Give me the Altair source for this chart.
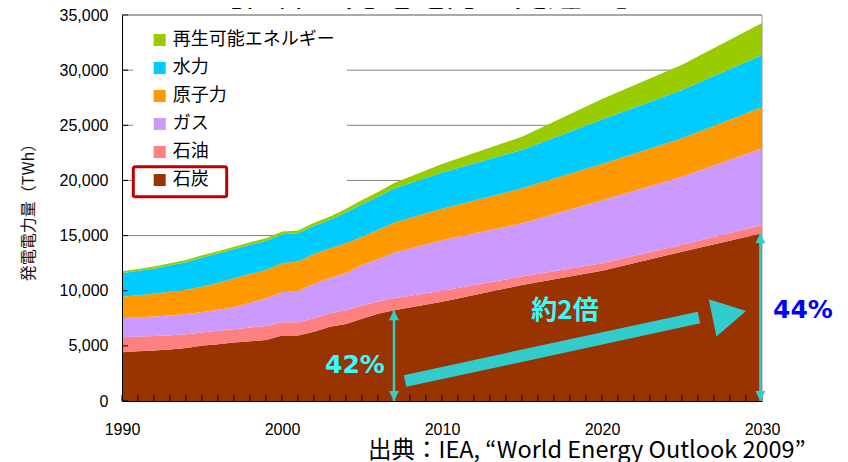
import altair as alt
import pandas as pd

# ---------------- data ----------------
years = [1990, 1991, 1992, 1993, 1994, 1995, 1996, 1997, 1998, 1999,
         2000, 2001, 2002, 2003, 2004, 2005, 2006, 2007,
         2010, 2015, 2020, 2025, 2030]
coal = [4420, 4500, 4570, 4660, 4800, 5000, 5150, 5300, 5420, 5530,
        5930, 5930, 6290, 6740, 6980, 7450, 7900, 8220,
        9000, 10520, 11800, 13540, 15200]
oil = [1350, 1340, 1320, 1300, 1260, 1200, 1220, 1200, 1250, 1270,
       1210, 1210, 1210, 1210, 1260, 1230, 1130, 1090,
       990, 760, 700, 620, 760]
gas = [1730, 1760, 1780, 1800, 1830, 1840, 1900, 2000, 2250, 2510,
       2720, 2840, 3110, 3230, 3340, 3650, 3820, 4140,
       4580, 4830, 5700, 6180, 6950]
nuclear = [1960, 2000, 2050, 2150, 2200, 2330, 2450, 2620, 2600, 2570,
           2620, 2660, 2720, 2660, 2720, 2570, 2660, 2720,
           2860, 3175, 3280, 3480, 3720]
hydro = [2120, 2200, 2280, 2400, 2500, 2650, 2650, 2660, 2650, 2650,
         2640, 2560, 2550, 2600, 2800, 2950, 3000, 3100,
         3300, 3480, 4050, 4380, 4740]
renewables = [180, 180, 185, 190, 195, 200, 205, 210, 220, 230,
              250, 260, 280, 300, 340, 380, 430, 500,
              760, 1200, 1850, 2300, 2900]

source_names = ["石炭", "石油", "ガス", "原子力", "水力", "再生可能エネルギー"]
source_colors = ["#993300", "#FF8080", "#CC99FF", "#FF9900", "#00CCFF", "#99CC00"]

x_label_years = [1990, 2000, 2010, 2020, 2030]
minor_tick_years = list(range(1990, 2031))
y_tick_values = [0, 5000, 10000, 15000, 20000, 25000, 30000, 35000]
grid_values = [5000, 10000, 15000, 20000, 25000, 30000]

title_text = "［世界の発電電力量見通し］"
y_title_text = "発電電力量（TWh）"
source_text = "出典：IEA, “World Energy Outlook 2009”"

# annotations (data coordinates)
share_years = [2007.0, 2029.9]
share_tops = [8220, 15200]
share_text = ["42%", "44%"]
share_text_year = [2004.56, 2032.56]
share_text_value = [2540, 7530]
share_text_color = ["#33FFFF", "#0000FF"]
growth_start = [2007.69, 1814]
growth_end = [2026.06, 7572]
growth_head = [2027.96, 7853]
growth_text = "約2倍"
growth_text_pos = [2017.69, 7390]

# ---------------- build tables ----------------
series = [coal, oil, gas, nuclear, hydro, renewables]
rows = []
for i, yr in enumerate(years):
    for k, (name, vals) in enumerate(zip(source_names, series)):
        rows.append({"year": yr, "source": name, "value": vals[i], "order": k})
df = pd.DataFrame(rows)

W, H = 640, 386
ARROW = "#33CCCC"
NUM_FONT = "Liberation Sans"
JP_FONT = "Noto Sans CJK JP"

xs = alt.Scale(domain=[1990, 2030], nice=False, zero=False)
ys = alt.Scale(domain=[0, 35000], nice=False)

x_axis = alt.Axis(values=x_label_years, format="d", title=None, grid=False,
                  tickSize=0, labelPadding=20, labelFont=NUM_FONT,
                  labelFontSize=16, labelColor="#000", domainColor="#000",
                  domainWidth=1, zindex=1, labelFlush=False)
y_axis = alt.Axis(values=y_tick_values, format=",d", title=y_title_text, grid=False,
                  tickSize=0, labelPadding=14, labelFont=NUM_FONT,
                  labelFontSize=16, labelColor="#000", domainColor="#000",
                  domainWidth=1, zindex=1,
                  titleFont=JP_FONT, titleFontSize=16, titleFontWeight="normal",
                  titleColor="#111", titleAngle=270, titleX=-94, titleY=193,
                  titleAlign="center", titleBaseline="middle")


def X(field):
    return alt.X(field, scale=xs, axis=x_axis)


def Y(field, **kw):
    return alt.Y(field, scale=ys, axis=y_axis, **kw)


legend_order = source_names[::-1]
legend_colors = source_colors[::-1]

grid = alt.Chart(pd.DataFrame({"v": grid_values})).mark_rule(
    color="#808080", strokeWidth=1
).encode(y=Y("v:Q"), x=alt.value(0), x2=alt.value(W))

area = alt.Chart(df).mark_area(opacity=1).encode(
    x=X("year:Q"),
    y=Y("value:Q", stack="zero"),
    color=alt.Color("source:N",
                    scale=alt.Scale(domain=legend_order, range=legend_colors),
                    legend=alt.Legend(orient="none", legendX=11.7, legendY=-1,
                                      title=None, symbolType="square",
                                      symbolSize=144, symbolStrokeWidth=0,
                                      symbolOpacity=1,
                                      labelFont=JP_FONT, labelFontSize=18,
                                      labelColor="#000", labelOffset=4,
                                      labelLimit=400,
                                      rowPadding=10, padding=17)),
    order=alt.Order("order:Q", sort="ascending"),
)

one = pd.DataFrame({"a": [0]})
legend_bg = alt.Chart(one).mark_rect(color="white").encode(
    x=alt.value(11), x2=alt.value(225), y=alt.value(5), y2=alt.value(191))
red_box = alt.Chart(one).mark_rect(filled=False, stroke="#C00000", strokeWidth=3,
                                   cornerRadius=2).encode(
    x=alt.value(11.3), x2=alt.value(104.7), y=alt.value(151.7), y2=alt.value(181.7))

xticks = alt.Chart(pd.DataFrame({"t": minor_tick_years})).mark_rule(
    color="#000", strokeWidth=1
).encode(x=X("t:Q"), y=alt.value(H - 6), y2=alt.value(H))
yticks = alt.Chart(pd.DataFrame({"v": y_tick_values})).mark_rule(
    color="#000", strokeWidth=1
).encode(y=Y("v:Q"), x=alt.value(0), x2=alt.value(6))

frame_top = alt.Chart(one).mark_rule(color="#555", strokeWidth=1).encode(
    x=alt.value(0), x2=alt.value(W), y=alt.value(0))
frame_right = alt.Chart(one).mark_rule(color="#999", strokeWidth=1).encode(
    x=alt.value(W), y=alt.value(0), y2=alt.value(H))

# vertical double arrows
share_df = pd.DataFrame({
    "yr": share_years, "top": share_tops,
    "zero": [0, 0],
    "uphead": [t - 453 for t in share_tops],
    "downhead": [453, 453],
})
share_lines = alt.Chart(share_df).mark_rule(color=ARROW, strokeWidth=2.5).encode(
    x=X("yr:Q"), y=Y("top:Q"), y2="zero:Q")
share_up = alt.Chart(share_df).mark_point(
    shape="M0,-1L1,1L-1,1Z", filled=True, size=100, color=ARROW, opacity=1,
    strokeWidth=0
).encode(x=X("yr:Q"), y=Y("uphead:Q"))
share_down = alt.Chart(share_df).mark_point(
    shape="M0,1L1,-1L-1,-1Z", filled=True, size=100, color=ARROW, opacity=1,
    strokeWidth=0
).encode(x=X("yr:Q"), y=Y("downhead:Q"))

share_labels_df = pd.DataFrame({"yr": share_text_year, "v": share_text_value,
                                "txt": share_text, "col": share_text_color})
share_labels = alt.Chart(share_labels_df).mark_text(
    font="DejaVu Sans", fontWeight="bold", fontSize=25, align="center",
    baseline="alphabetic"
).encode(x=X("yr:Q"), y=Y("v:Q"),
         text="txt:N", color=alt.Color("col:N", scale=None))

# big diagonal arrow
growth_df = pd.DataFrame({"x1": [growth_start[0]], "y1": [growth_start[1]],
                          "x2": [growth_end[0]], "y2": [growth_end[1]]})
growth_shaft = alt.Chart(growth_df).mark_rule(
    color=ARROW, strokeWidth=12, strokeCap="butt"
).encode(x=X("x1:Q"), y=Y("y1:Q"), x2="x2:Q", y2="y2:Q")
growth_head_df = pd.DataFrame({"x": [growth_head[0]], "y": [growth_head[1]]})
growth_headmark = alt.Chart(growth_head_df).mark_point(
    shape="M-0.9,-1L0.9,0L-0.9,1Z", filled=True, size=1444, angle=348.4,
    color=ARROW, opacity=1, strokeWidth=0
).encode(x=X("x:Q"), y=Y("y:Q"))
growth_label_df = pd.DataFrame({"x": [growth_text_pos[0]], "y": [growth_text_pos[1]],
                                "txt": [growth_text]})
growth_label = alt.Chart(growth_label_df).mark_text(
    font=JP_FONT, fontWeight="bold", fontSize=26, color="#33FFFF",
    align="center", baseline="alphabetic"
).encode(x=X("x:Q"), y=Y("y:Q"), text="txt:N")

# texts
title = alt.Chart(pd.DataFrame({"txt": [title_text]})).mark_text(
    font=JP_FONT, fontSize=34, color="#000", align="center", baseline="alphabetic"
).encode(x=alt.value(307), y=alt.value(-9), text="txt:N")
source = alt.Chart(pd.DataFrame({"txt": [source_text]})).mark_text(
    font=JP_FONT, fontSize=23.5, color="#000", align="left", baseline="alphabetic"
).encode(x=alt.value(246), y=alt.value(443), text="txt:N")

chart = alt.layer(
    grid, area, legend_bg, red_box, xticks, yticks, frame_top, frame_right,
    share_lines, share_up, share_down, share_labels,
    growth_shaft, growth_headmark, growth_label,
    title, source,
).properties(
    width=W, height=H,
    padding={"left": 114, "top": 7, "right": 78, "bottom": 61},
    autosize=alt.AutoSizeParams(type="none"),
    background="white",
).configure_view(stroke=None)

chart.save("out.html", embed_options={"renderer": "svg", "actions": False})
